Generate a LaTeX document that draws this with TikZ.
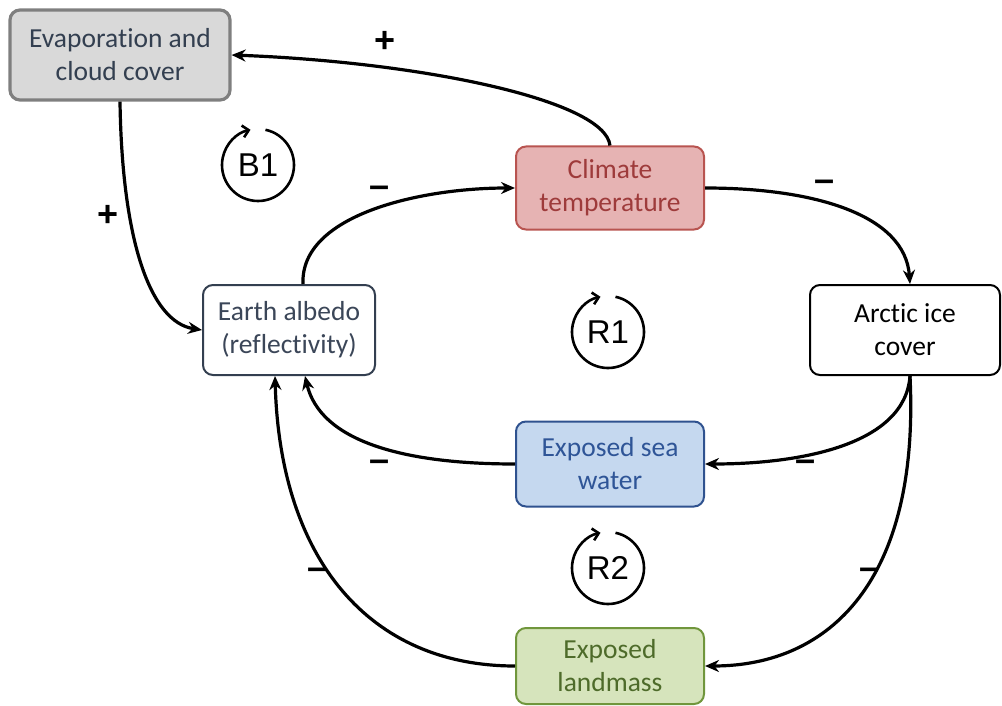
\documentclass[tikz,border=0pt]{standalone}
\usepackage{fontspec}
\setmainfont[RawFeature=-liga]{Carlito}
\newfontfamily\labfont{Liberation Sans}
\usetikzlibrary{arrows.meta}
\definecolor{evapfill}{HTML}{D9D9D9}
\definecolor{evapdraw}{HTML}{7F7F7F}
\definecolor{evaptext}{HTML}{333F50}
\definecolor{climfill}{HTML}{E6B3B3}
\definecolor{climdraw}{HTML}{B85450}
\definecolor{climtext}{HTML}{9E3B3B}
\definecolor{albdraw}{HTML}{333F50}
\definecolor{albtext}{HTML}{3B4658}
\definecolor{seafill}{HTML}{C5D8EF}
\definecolor{seadraw}{HTML}{2F528F}
\definecolor{seatext}{HTML}{2F5597}
\definecolor{landfill}{HTML}{D6E4BC}
\definecolor{landdraw}{HTML}{70963C}
\definecolor{landtext}{HTML}{4E6B2A}
\begin{document}
\begin{tikzpicture}[x=1pt,y=-1pt,
  box/.style={rounded corners=10pt, line width=2pt, align=center, inner sep=0pt,
    font=\fontsize{27.5}{33}\selectfont},
  link/.style={line width=3.2pt, -{Stealth[length=14pt,width=12pt]}},
  sign/.style={font=\labfont\bfseries\fontsize{36}{36}\selectfont, inner sep=0pt},
  looplab/.style={font=\labfont\fontsize{33}{33}\selectfont, inner sep=0pt},
  loopline/.style={line width=2.6pt, -{Straight Barb[length=6pt,width=12pt]}}
]
\useasboundingbox (0,0) rectangle (1002,706);

\node[box, fill=evapfill, draw=evapdraw, line width=3.2pt, text=evaptext, minimum width=220pt, minimum height=90pt] (evap) at (120,55) {Evaporation and\\cloud cover};
\node[box, fill=climfill, draw=climdraw, text=climtext, minimum width=188pt, minimum height=83pt] (clim) at (610,188) {Climate\\temperature};
\node[box, fill=white, draw=albdraw, text=albtext, minimum width=172pt, minimum height=90pt] (alb) at (289,330) {Earth albedo\\(reflectivity)};
\node[box, fill=white, draw=black, text=black, minimum width=190pt, minimum height=90pt] (arc) at (905,330) {Arctic ice\\cover};
\node[box, fill=seafill, draw=seadraw, text=seatext, minimum width=188pt, minimum height=85pt] (sea) at (610,464) {Exposed sea\\water};
\node[box, fill=landfill, draw=landdraw, text=landtext, minimum width=188pt, minimum height=76pt] (land) at (610,666) {Exposed\\landmass};

% connectors
\draw[link] (clim.north) .. controls (605,100) and (420,62) .. (evap.east);
\draw[link] (evap.south) .. controls (122,240) and (150,322) .. (alb.west);
\draw[link] ([xshift=14pt]alb.north) .. controls (300,215) and (420,188) .. (clim.west);
\draw[link] (clim.east) .. controls (815,188) and (905,215) .. ([xshift=5pt]arc.north);
\draw[link] ([xshift=5pt]arc.south) .. controls (905,445) and (800,464) .. (sea.east);
\draw[link] (sea.west) .. controls (400,464) and (320,440) .. ([xshift=16pt]alb.south);
\draw[link] ([xshift=5pt]arc.south) .. controls (920,580) and (830,666) .. (land.east);
\draw[link] (land.west) .. controls (370,666) and (280,560) .. ([xshift=-14pt]alb.south);

% signs
\node[sign] (s1) at (385,42) {+};
\node[sign] (s2) at (108,216) {+};
\node[sign] (s3) at (380,192) {–};
\node[sign] (s4) at (825,186) {–};
\node[sign] (s5) at (806,466) {–};
\node[sign] (s6) at (380,466) {–};
\node[sign] (s7) at (870,574) {–};
\node[sign] (s8) at (318,574) {–};

% loop markers
\foreach \n/\cx/\cy/\t in {b1/258/165/B1, r1/608/332/R1, r2/608/568/R2}{
  \node[looplab] (\n) at (\cx,\cy) {\t};
  \draw[loopline] ([shift={(78:36pt)}]\n.center) arc[start angle=78, end angle=-258, radius=36pt];
}
\end{tikzpicture}
\end{document}
